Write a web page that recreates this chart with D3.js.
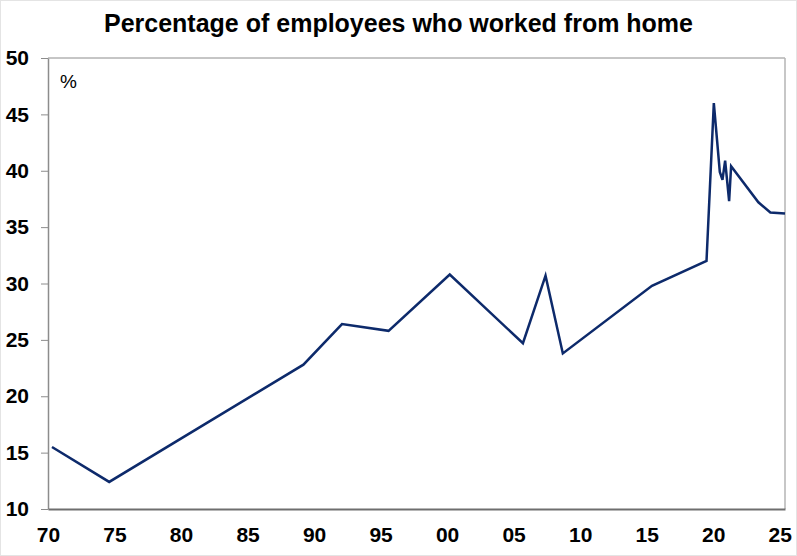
<!DOCTYPE html>
<html>
<head>
<meta charset="utf-8">
<script src="https://cdn.jsdelivr.net/npm/d3@7"></script>
<style>
  body { margin: 0; background: #fff; }
  text { font-family: "Liberation Sans", Arial, sans-serif; }
</style>
</head>
<body>
<div id="chart"></div>
<script>
// Data (decimal years, percent)
const years = [1970.3, 1974.6, 1989.2, 1992.1, 1995.6, 2000.2, 2005.7, 2007.4, 2008.7,
  2015.4, 2019.5, 2020.05, 2020.5, 2020.7, 2020.9, 2021.2, 2021.35, 2023.4, 2024.3, 2025.4];
const values = [15.5, 12.4, 22.8, 26.4, 25.8, 30.8, 24.7, 30.7, 23.8,
  29.8, 32.0, 46.0, 39.9, 39.2, 40.9, 37.3, 40.4, 37.2, 36.3, 36.2];
const xTicks = [1970, 1975, 1980, 1985, 1990, 1995, 2000, 2005, 2010, 2015, 2020, 2025];
const yTicks = [10, 15, 20, 25, 30, 35, 40, 45, 50];

const width = 797;
const height = 556;
const margin = { top: 58, right: 12, bottom: 47, left: 48 };

const svg = d3.select("#chart")
  .append("svg")
  .attr("width", width)
  .attr("height", height);

// faint outer border
svg.append("rect")
  .attr("x", 0.5).attr("y", 0.5)
  .attr("width", width - 1).attr("height", height - 1)
  .attr("fill", "none").attr("stroke", "#e4e4e4");

const x = d3.scaleLinear()
  .domain([1970, 2025.4])
  .range([margin.left, width - margin.right]);

const y = d3.scaleLinear()
  .domain([10, 50])
  .range([height - margin.bottom, margin.top]);

// title
svg.append("text")
  .attr("x", width / 2)
  .attr("y", 32)
  .attr("text-anchor", "middle")
  .style("font-size", "25px")
  .style("font-weight", "bold")
  .text("Percentage of employees who worked from home");

// plot frame (top and right)
svg.append("line")
  .attr("x1", margin.left).attr("x2", width - margin.right)
  .attr("y1", margin.top).attr("y2", margin.top)
  .attr("stroke", "#8c8c8c").attr("stroke-width", 1);
svg.append("line")
  .attr("x1", width - margin.right).attr("x2", width - margin.right)
  .attr("y1", margin.top).attr("y2", height - margin.bottom)
  .attr("stroke", "#b4b4b4").attr("stroke-width", 1.5);

// y axis
const yAxis = svg.append("g")
  .attr("transform", `translate(${margin.left},0)`)
  .call(d3.axisLeft(y).tickValues(yTicks).tickSize(7).tickSizeOuter(0).tickPadding(12));
yAxis.select(".domain").attr("stroke", "#8c8c8c").attr("stroke-width", 1.5);
yAxis.selectAll(".tick line").attr("stroke", "#8c8c8c");
yAxis.selectAll(".tick text")
  .style("font-size", "21px")
  .style("font-weight", "bold")
  .attr("fill", "#000");

// x axis
const xAxis = svg.append("g")
  .attr("transform", `translate(0,${height - margin.bottom})`)
  .call(d3.axisBottom(x).tickValues(xTicks).tickSize(0).tickSizeOuter(0).tickPadding(18)
    .tickFormat(d => d3.format("02d")(d % 100)));
xAxis.select(".domain").attr("stroke", "#6e6e6e").attr("stroke-width", 2);
xAxis.selectAll(".tick text")
  .style("font-size", "21px")
  .style("font-weight", "bold")
  .attr("fill", "#000");

// unit label
svg.append("text")
  .attr("x", 60)
  .attr("y", 88)
  .style("font-size", "19px")
  .text("%");

// the series
const line = d3.line()
  .x((d, i) => x(years[i]))
  .y(d => y(d));

svg.append("path")
  .datum(values)
  .attr("fill", "none")
  .attr("stroke", "#0d2a6b")
  .attr("stroke-width", 2.5)
  .attr("stroke-linejoin", "miter")
  .attr("d", line);
</script>
</body>
</html>
